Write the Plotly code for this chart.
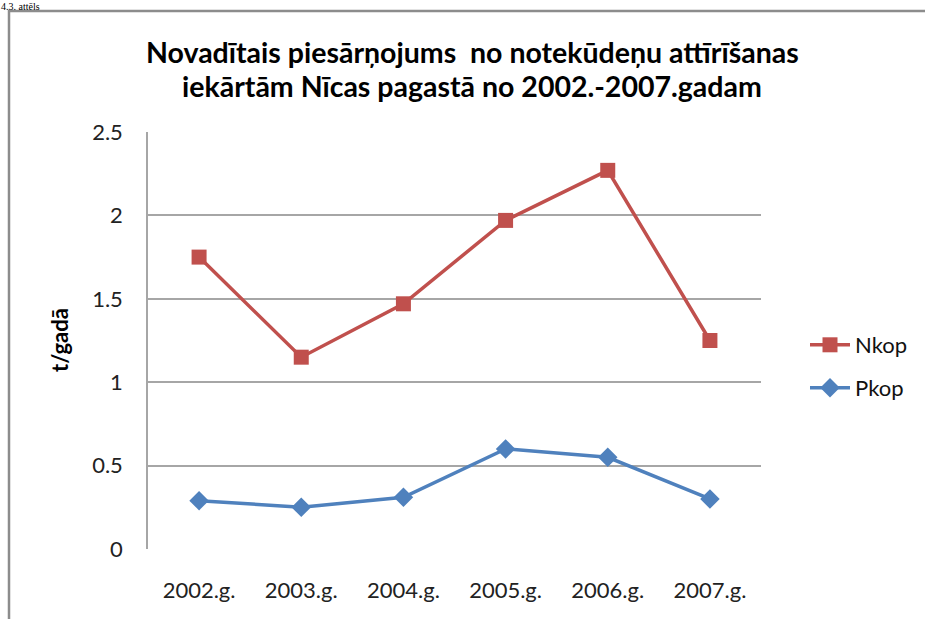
import plotly.graph_objects as go

categories = ["2002.g.", "2003.g.", "2004.g.", "2005.g.", "2006.g.", "2007.g."]
nkop = [1.75, 1.15, 1.47, 1.97, 2.27, 1.25]
pkop = [0.29, 0.25, 0.31, 0.60, 0.55, 0.30]
y_ticks = [0, 0.5, 1, 1.5, 2, 2.5]
y_tick_labels = ["0", "0.5", "1", "1.5", "2", "2.5"]
title_lines = ["Novadītais piesārņojums  no notekūdeņu attīrīšanas",
               "iekārtām Nīcas pagastā no 2002.-2007.gadam"]
y_title = "t/gadā"
caption = "4.3. attēls"

W, H = 925, 619
L, R, T, B = 148, 761, 132, 549
pw, ph = R - L, B - T


def px(x):
    return (x - L) / pw


def py(y):
    return (B - y) / ph


FONT = "Lato, 'Open Sans', sans-serif"
RED = "#C0504D"
BLUE = "#4F81BD"

fig = go.Figure()
fig.add_trace(go.Scatter(
    x=list(range(len(categories))), y=nkop, name="Nkop", mode="lines+markers",
    line=dict(color=RED, width=3.5),
    marker=dict(symbol="square", size=15, color=RED),
    legend="legend",
))
fig.add_trace(go.Scatter(
    x=list(range(len(categories))), y=pkop, name="Pkop", mode="lines+markers",
    line=dict(color=BLUE, width=3.5),
    marker=dict(symbol="diamond", size=15, color=BLUE),
    legend="legend2",
))

fig.update_layout(
    width=W, height=H,
    margin=dict(l=L, r=W - R, t=T, b=H - B, pad=0),
    paper_bgcolor="white", plot_bgcolor="white",
    font=dict(family=FONT, size=22, color="#222222"),
    showlegend=True,
    legend=dict(x=px(805), y=py(345), xanchor="left", yanchor="middle",
                itemwidth=40,
                font=dict(size=22, color="#111111"), bgcolor="rgba(0,0,0,0)"),
    legend2=dict(x=px(805), y=py(388), xanchor="left", yanchor="middle",
                 itemwidth=40,
                 font=dict(size=22, color="#111111"), bgcolor="rgba(0,0,0,0)"),
    xaxis=dict(
        range=[-0.5, len(categories) - 0.5],
        tickmode="array", tickvals=list(range(len(categories))), ticktext=categories,
        showgrid=False, zeroline=False, showline=False,
        ticks="", ticklabelstandoff=26,
        tickfont=dict(size=22, color="#222222"),
        fixedrange=True,
    ),
    yaxis=dict(
        range=[0, 2.5],
        tickmode="array", tickvals=y_ticks, ticktext=y_tick_labels,
        showgrid=True, gridcolor="#A6A6A6", gridwidth=1.5,
        zeroline=False, showline=True, linecolor="#A6A6A6", linewidth=1.5,
        ticks="", ticklabelstandoff=19,
        tickfont=dict(size=22, color="#222222"),
        fixedrange=True,
    ),
    shapes=[
        dict(type="rect", xref="paper", yref="paper",
             x0=px(9), x1=px(940), y0=py(11), y1=py(640),
             line=dict(color="#8C8C8C", width=2.5), fillcolor="rgba(0,0,0,0)",
             layer="below"),
    ],
    annotations=[
        dict(text="<b>" + title_lines[0] + "</b>", xref="paper", yref="paper",
             x=px(472), y=py(52), xanchor="center", yanchor="middle",
             showarrow=False, font=dict(size=28.5, color="#000000", family=FONT)),
        dict(text="<b>" + title_lines[1] + "</b>", xref="paper", yref="paper",
             x=px(472), y=py(86), xanchor="center", yanchor="middle",
             showarrow=False, font=dict(size=28.5, color="#000000", family=FONT)),
        dict(text="<b>" + y_title + "</b>", xref="paper", yref="paper",
             x=px(59), y=py(340), xanchor="center", yanchor="middle",
             textangle=-90, showarrow=False,
             font=dict(size=22, color="#000000", family=FONT)),
        dict(text=caption, xref="paper", yref="paper",
             x=px(0), y=py(0), xanchor="left", yanchor="top",
             showarrow=False, borderpad=0,
             font=dict(size=10, color="#000000",
                       family="'Liberation Serif', 'Times New Roman', serif")),
    ],
)

fig.write_html("out.html", config={"displayModeBar": False},
               post_script="document.body.style.margin='0';")
